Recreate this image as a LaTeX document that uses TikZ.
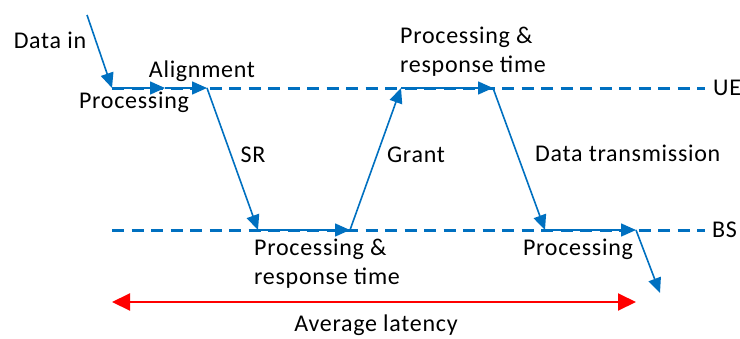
\documentclass[tikz,border=0pt]{standalone}
\usepackage{fontspec}
\setmainfont{Carlito}[LetterSpace=3]
\usetikzlibrary{arrows.meta}
\definecolor{lblue}{HTML}{0070C0}
\begin{document}
\begin{tikzpicture}[x=1pt,y=-1pt,
  lane/.style={draw=lblue,line width=3pt,dash pattern=on 12pt off 7.5pt},
  msg/.style={draw=lblue,line width=1.6pt,-{Triangle[length=15pt,width=13pt]}},
  lat/.style={draw=red,line width=2pt,{Triangle[length=18pt,width=17pt]}-{Triangle[length=18pt,width=17pt]}},
  lbl/.style={inner sep=0pt,font=\fontsize{24}{29}\selectfont,align=left}]
\useasboundingbox (0,0) rectangle (740,338);
\coordinate (s) at (87,15);
\coordinate (u0) at (112,88);
\coordinate (a1) at (165,88);
\coordinate (a2) at (207,88);
\coordinate (b1) at (258,230);
\coordinate (b2) at (350,230);
\coordinate (u1) at (401,88);
\coordinate (u2) at (493,88);
\coordinate (b3) at (545,230);
\coordinate (b4) at (636,230);
\coordinate (e) at (660,293);
\coordinate (ueL) at (112,88);
\coordinate (ueR) at (705,88);
\coordinate (bsL) at (112,230);
\coordinate (bsR) at (705,230);
\coordinate (r1) at (112,302);
\coordinate (r2) at (636,302);
\draw[lane] (ueL) -- (ueR);
\draw[lane] (bsL) -- (bsR);
\draw[msg] (s) -- (u0);
\draw[msg] (u0) -- (a1);
\draw[msg] (a1) -- (a2);
\draw[msg] (a2) -- (b1);
\draw[msg] (b1) -- (b2);
\draw[msg] (b2) -- (u1);
\draw[msg] (u1) -- (u2);
\draw[msg] (u2) -- (b3);
\draw[msg] (b3) -- (b4);
\draw[msg] (b4) -- (e);
\draw[lat] (r1) -- (r2);
\node[lbl] (tdata) at (50,40) {Data in};
\node[lbl] (talign) at (202,71) {Alignment};
\node[lbl] (tproc1) at (134,102) {Processing};
\node[lbl] (tsr) at (253,155) {SR};
\node[lbl] (tgrant) at (416,155) {Grant};
\node[lbl,anchor=west] (tdt) at (535,153) {Data transmission};
\node[lbl,anchor=west] (tpr1) at (400,52) {Processing \&\\response time};
\node[lbl,anchor=west] (tpr2) at (254,264) {Processing \&\\response time};
\node[lbl] (tproc2) at (578,249) {Processing};
\node[lbl] (tavg) at (376,325) {Average latency};
\node[lbl,anchor=west] (tue) at (713,88) {UE};
\node[lbl,anchor=west] (tbs) at (712,230) {BS};
\end{tikzpicture}
\end{document}
